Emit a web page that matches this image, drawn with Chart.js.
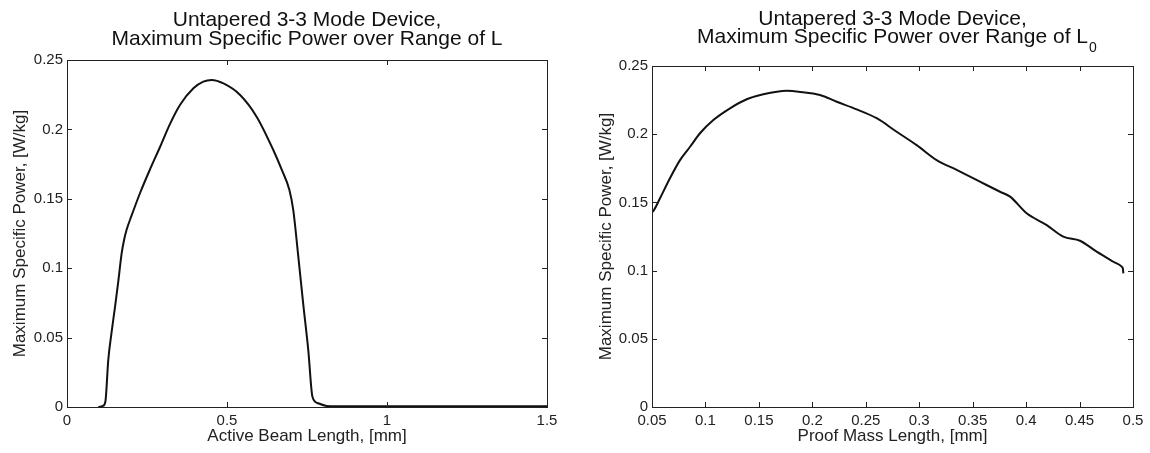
<!DOCTYPE html>
<html>
<head>
<meta charset="utf-8">
<script src="https://cdn.jsdelivr.net/npm/chart.js@4/dist/chart.umd.min.js"></script>
<style>
html, body { margin: 0; padding: 0; background: #fff; }
#wrap { position: relative; width: 1150px; height: 453px; }
.panel { position: absolute; top: 0; width: 575px; height: 453px; }
</style>
</head>
<body>
<div id="wrap">
  <div class="panel" style="left:0"><canvas id="beamChart" width="575" height="453"></canvas></div>
  <div class="panel" style="left:575px"><canvas id="massChart" width="575" height="453"></canvas></div>
</div>
<script>
// Left plot: power vs active beam length [mm]
const beamLength = [0.098, 0.112, 0.120, 0.129, 0.140, 0.150, 0.160, 0.171, 0.178, 0.186, 0.202, 0.228, 0.259,
  0.291, 0.322, 0.353, 0.395, 0.426, 0.452, 0.489, 0.541, 0.593, 0.645, 0.671, 0.695, 0.707, 0.723,
  0.738, 0.754, 0.767, 0.785, 0.811, 0.84, 1.0, 1.5];
const beamPower = [0, 0.0008, 0.004, 0.034, 0.055, 0.072, 0.090, 0.111, 0.120, 0.1275, 0.138, 0.154, 0.171,
  0.1875, 0.204, 0.2176, 0.2296, 0.2344, 0.2356, 0.2331, 0.2248, 0.209, 0.185, 0.171, 0.1563, 0.142, 0.108,
  0.0747, 0.041, 0.0074, 0.0027, 0.0008, 0.0005, 0.0005, 0.0005];

// Right plot: power vs proof mass length [mm]
const massLength = [0.0505, 0.0519, 0.0575, 0.0668, 0.0762, 0.0856, 0.0949, 0.1074, 0.123, 0.1386, 0.1541,
  0.176, 0.1916, 0.2072, 0.2228, 0.2415, 0.2602, 0.2789, 0.2976, 0.3163, 0.335, 0.3568, 0.3756, 0.385,
  0.4005, 0.4193, 0.4348, 0.4504, 0.466, 0.4816, 0.4894, 0.4905, 0.491];
const massPower = [0.143, 0.1444, 0.153, 0.1677, 0.181, 0.1908, 0.2007, 0.2104, 0.219, 0.2256, 0.2293,
  0.2319, 0.2307, 0.2287, 0.2238, 0.2182, 0.2117, 0.2018, 0.192, 0.181, 0.1738, 0.1652, 0.1578, 0.1542,
  0.142, 0.1334, 0.1249, 0.1219, 0.1139, 0.1065, 0.1029, 0.1015, 0.098];

const yTitle = 'Maximum Specific Power, [W/kg]';
const FONT = '"Liberation Sans", Arial, sans-serif';
const INK = '#222';

const fmt = v => String(parseFloat(Number(v).toFixed(3)));

// matlab style: box around the axes, ticks pointing inward, two-line title
const matlabFrame = {
  id: 'matlabFrame',
  afterDraw(chart, args, opts) {
    const { ctx, chartArea: a, scales: { x, y } } = chart;
    ctx.save();
    ctx.strokeStyle = INK;
    ctx.lineWidth = 1;
    ctx.strokeRect(a.left + 0.5, a.top + 0.5, a.right - a.left, a.bottom - a.top);
    const len = 5;
    ctx.beginPath();
    x.ticks.forEach(t => {
      const px = Math.round(x.getPixelForValue(t.value)) + 0.5;
      ctx.moveTo(px, a.bottom); ctx.lineTo(px, a.bottom - len);
      ctx.moveTo(px, a.top); ctx.lineTo(px, a.top + len);
    });
    y.ticks.forEach(t => {
      const py = Math.round(y.getPixelForValue(t.value)) + 0.5;
      ctx.moveTo(a.left, py); ctx.lineTo(a.left + len, py);
      ctx.moveTo(a.right, py); ctx.lineTo(a.right - len, py);
    });
    ctx.stroke();

    // title
    const cx = (a.left + a.right) / 2;
    ctx.fillStyle = '#111';
    ctx.textAlign = 'center';
    ctx.textBaseline = 'alphabetic';
    ctx.font = '21px ' + FONT;
    opts.lines.forEach((line, i) => {
      ctx.fillText(line, cx, opts.baselines[i]);
    });
    if (opts.sub) {
      const last = opts.lines[opts.lines.length - 1];
      const w = ctx.measureText(last).width;
      ctx.font = '14px ' + FONT;
      ctx.textAlign = 'left';
      ctx.fillText(opts.sub, cx + w / 2 + 1, opts.baselines[opts.lines.length - 1] + 9);
    }
    ctx.restore();
  }
};

function makeChart(id, xs, ys, cfg) {
  return new Chart(document.getElementById(id), {
    type: 'line',
    data: {
      datasets: [{
        data: xs.map((v, i) => ({ x: v, y: ys[i] })),
        borderColor: '#111',
        borderWidth: 2,
        pointRadius: 0,
        cubicInterpolationMode: 'monotone',
        fill: false
      }]
    },
    options: {
      responsive: false,
      animation: false,
      devicePixelRatio: 1,
      layout: { padding: { top: cfg.top, right: cfg.right, left: 0, bottom: 0 } },
      plugins: {
        legend: { display: false },
        tooltip: { enabled: false },
        matlabFrame: { lines: cfg.title, baselines: cfg.baselines, sub: cfg.sub }
      },
      scales: {
        x: {
          type: 'linear',
          min: cfg.xMin, max: cfg.xMax,
          afterFit(s) { s.height = 46; },
          grid: { display: false, drawTicks: false },
          border: { display: false },
          ticks: {
            stepSize: cfg.xStep, autoSkip: false, maxRotation: 0, padding: 5,
            color: INK, font: { family: FONT, size: 15 }, callback: fmt
          },
          title: {
            display: true, text: cfg.xTitle, color: INK,
            font: { family: FONT, size: 17 }, padding: { top: 0, bottom: 6 }
          }
        },
        y: {
          type: 'linear',
          min: 0, max: 0.25,
          afterFit(s) { s.width = cfg.yWidth; },
          grid: { display: false, drawTicks: false },
          border: { display: false },
          ticks: {
            stepSize: 0.05, padding: 4,
            color: INK, font: { family: FONT, size: 15 }, callback: fmt
          },
          title: {
            display: true, text: yTitle, color: INK,
            font: { family: FONT, size: 17 }, padding: { top: cfg.yTitlePad, bottom: 0 }
          }
        }
      }
    },
    plugins: [matlabFrame]
  });
}

makeChart('beamChart', beamLength, beamPower, {
  top: 60, right: 28, yWidth: 67, yTitlePad: 10,
  xMin: 0, xMax: 1.5, xStep: 0.5,
  xTitle: 'Active Beam Length, [mm]',
  title: ['Untapered 3-3 Mode Device,', 'Maximum Specific Power over Range of L'],
  baselines: [26, 45]
});

makeChart('massChart', massLength, massPower, {
  top: 66, right: 17, yWidth: 77, yTitlePad: 21,
  xMin: 0.05, xMax: 0.5, xStep: 0.05,
  xTitle: 'Proof Mass Length, [mm]',
  title: ['Untapered 3-3 Mode Device,', 'Maximum Specific Power over Range of L'],
  baselines: [25, 43],
  sub: '0'
});
</script>
</body>
</html>
